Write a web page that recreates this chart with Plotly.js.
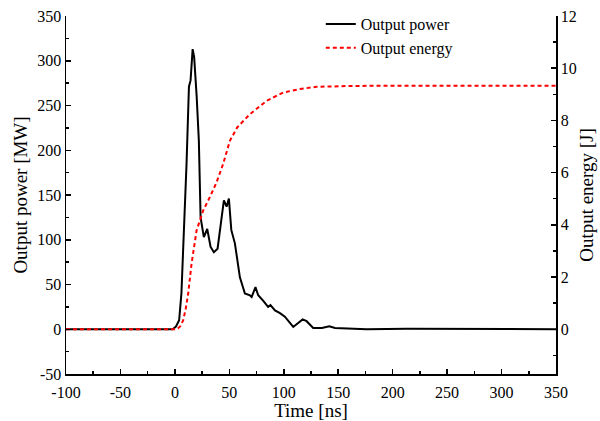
<!DOCTYPE html>
<html>
<head>
<meta charset="utf-8">
<script src="https://cdn.plot.ly/plotly-3.0.1.min.js"></script>
<style>html,body{margin:0;padding:0;background:#fff;}#chart{width:600px;height:421px;}</style>
</head>
<body>
<div id="chart"></div>
<script>
// Output power [MW] vs time [ns]
const powerTime = [-100, -50, -10, -2, 1, 3.9, 6, 7.6, 10.7, 12.9, 14.4, 16.3, 17.7, 20, 22, 23.6, 26.6, 29.7, 32.8, 35.8, 39.2, 42.2, 45, 47.5, 49.6, 51.8, 55.1, 59.7, 64.3, 68.9, 70.5, 74, 76.5, 81, 85.6, 87.8, 91.9, 96.5, 101, 108.7, 114.8, 117.3, 121, 127, 135, 141.8, 147, 157.7, 176, 213, 262, 300, 350];
const powerValues = [0, 0, 0, 0, 3, 10, 40, 88, 185, 271, 278, 313, 304, 260, 211, 125, 103, 112, 92, 86, 90, 118, 144, 137, 146, 111, 96, 58, 40, 38, 36, 47, 38, 32, 25, 27, 21, 18, 14, 2.6, 8, 11, 9, 1.5, 1.5, 3.3, 1.5, 1, 0, 0.5, 0.5, 0, 0];
// Output energy [J] vs time [ns]
const energyTime = [-100, -50, 0, 2.8, 5, 7.6, 10, 12.2, 15.3, 19.9, 26, 32.1, 38.3, 44.3, 50.5, 57.2, 68.9, 84.2, 99.5, 114.8, 130, 145, 160, 200, 250, 300, 350];
const energyValues = [0, 0, 0, 0.03, 0.12, 0.34, 0.8, 1.36, 2.51, 3.78, 4.55, 5.06, 5.63, 6.33, 7.22, 7.73, 8.24, 8.75, 9.07, 9.2, 9.29, 9.3, 9.32, 9.33, 9.33, 9.33, 9.33];
const seriesNames = ["Output power", "Output energy"];
// Tick values and labels (hyphen-minus as in the reference)
const xTickVals = [-100, -50, 0, 50, 100, 150, 200, 250, 300, 350];
const xTickText = ["-100", "-50", "0", "50", "100", "150", "200", "250", "300", "350"];
const yTickVals = [-50, 0, 50, 100, 150, 200, 250, 300, 350];
const yTickText = ["-50", "0", "50", "100", "150", "200", "250", "300", "350"];
const y2TickVals = [0, 2, 4, 6, 8, 10, 12];
const y2TickText = ["0", "2", "4", "6", "8", "10", "12"];

const font = "Liberation Serif, Times New Roman, serif";

const traces = [
  {x: powerTime, y: powerValues, name: seriesNames[0], type: "scatter", mode: "lines",
   line: {color: "#000000", width: 2}},
  {x: energyTime, y: energyValues, name: seriesNames[1], type: "scatter", mode: "lines", yaxis: "y2",
   line: {color: "#ff0000", width: 2, dash: "4px,3px"}}
];

const tickStyle = {ticks: "inside", ticklen: 5, tickwidth: 1.5, tickcolor: "#000",
  showline: true, linecolor: "#000", linewidth: 1.5, showgrid: false, zeroline: false,
  tickfont: {family: font, size: 16}};

const layout = {
  width: 600, height: 421,
  margin: {l: 66, r: 44, t: 16, b: 47, autoexpand: false},
  paper_bgcolor: "#fff", plot_bgcolor: "#fff",
  font: {family: font, size: 16, color: "#000"},
  showlegend: true,
  legend: {x: 0.52, y: 1.025, xanchor: "left", yanchor: "top", bgcolor: "rgba(0,0,0,0)",
           font: {family: font, size: 16}, tracegroupgap: 0},
  xaxis: Object.assign({}, tickStyle, {
    range: [-100, 350], tickmode: "array", tickvals: xTickVals, ticktext: xTickText,
    minor: {dtick: 25, tick0: -100, ticks: "inside", ticklen: 3, tickwidth: 1.5, tickcolor: "#000"},
    ticklabelstandoff: 3,
    title: {text: "Time [ns]", font: {family: font, size: 19}, standoff: 0}
  }),
  yaxis: Object.assign({}, tickStyle, {
    range: [-50, 350], tickmode: "array", tickvals: yTickVals, ticktext: yTickText,
    minor: {dtick: 25, tick0: -50, ticks: "inside", ticklen: 3, tickwidth: 1.5, tickcolor: "#000"},
    title: {text: "Output power [MW]", font: {family: font, size: 19}, standoff: 4}
  }),
  yaxis2: Object.assign({}, tickStyle, {
    overlaying: "y", side: "right",
    range: [-1.7142857, 12], tickmode: "array", tickvals: y2TickVals, ticktext: y2TickText,
    minor: {dtick: 1, tick0: 0, ticks: "inside", ticklen: 3, tickwidth: 1.5, tickcolor: "#000"},
    title: {text: "Output energy [J]", font: {family: font, size: 19}, standoff: 4}
  })
};

Plotly.newPlot("chart", traces, layout, {displayModeBar: false, staticPlot: true});
</script>
</body>
</html>
